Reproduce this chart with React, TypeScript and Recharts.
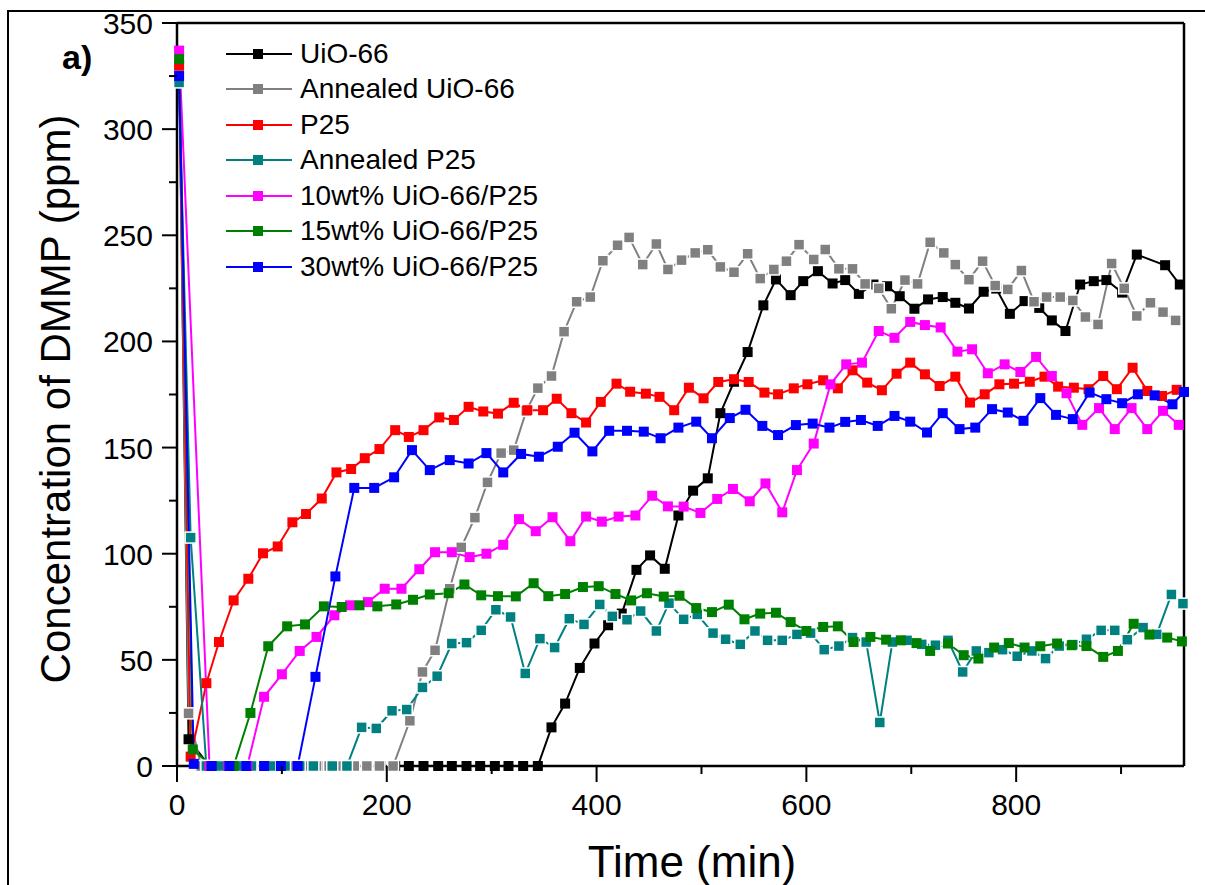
import { LineChart, Line, XAxis, YAxis, Legend } from "recharts";

// [time (min), concentration (ppm)]
const uio66: [number, number][] = [
  [2, 330], [11, 12.6], [31, 0], [45, 0], [58, 0], [72, 0], [85, 0], [99, 0], [113, 0], [126, 0],
  [140, 0], [153, 0], [167, 0], [181, 0], [194, 0], [208, 0], [221, 0], [235, 0], [249, 0], [262, 0],
  [276, 0], [289, 0], [303, 0], [316, 0], [330, 0], [344, 0], [357, 18.2], [370, 29.4], [384, 46.2],
  [398, 57.7], [411, 66.3], [424, 71.8], [438, 92.4], [451, 99.2], [465, 92.9], [478, 118], [492, 129.7],
  [506, 135.5], [518, 166.2], [531, 181], [544, 195], [559, 217], [571, 229.2], [585, 221.8], [597, 228.4],
  [611, 233.1], [625, 227.3], [637, 228.9], [650, 222.4], [664, 226.8], [677, 226], [689, 221.3],
  [703, 215.4], [716, 219.8], [730, 220.9], [742, 218.2], [755, 215.5], [769, 223.4], [781, 224.9],
  [794, 213], [808, 219], [822, 215.8], [834, 209.9], [847, 204.9], [861, 226.8], [874, 228.4],
  [886, 228.9], [901, 223], [915, 240.9], [942, 235.9], [956, 226.8],
];

const annealedUio66: [number, number][] = [
  [2, 329], [11, 24.8], [23, 0], [35, 0], [47, 0], [59, 0], [72, 0], [84, 0], [96, 0], [108, 0],
  [120, 0], [133, 0], [145, 0], [157, 0], [169, 0], [181, 0], [193, 0], [206, 0], [222, 21.3],
  [234, 44.3], [246, 54.5], [260, 83.5], [271, 103], [284, 117], [296, 133.6], [309, 147.4],
  [321, 148.8], [333, 167.3], [344, 178], [357, 183.7], [369, 204.6], [381, 218.7], [394, 220.9],
  [406, 238], [420, 245.3], [431, 249], [444, 236.2], [457, 245.9], [468, 233.9], [481, 238.3],
  [494, 241.7], [506, 243.2], [518, 235.1], [531, 232.6], [544, 241.3], [556, 229.6], [569, 233.9],
  [581, 237.8], [593, 245.6], [607, 238.6], [618, 243.3], [631, 234.2], [644, 234.2], [656, 227.1],
  [669, 225], [681, 215.4], [694, 228.9], [706, 227.1], [718, 246.7], [731, 241.7], [742, 236.2],
  [755, 229.1], [768, 237.8], [780, 226.3], [792, 224.5], [805, 233.4], [817, 218.7], [829, 220.9],
  [842, 220.9], [854, 219.3], [866, 211.5], [878, 208], [891, 236.7], [903, 225], [915, 212],
  [928, 218.2], [940, 213.8], [952, 209.9],
];

const p25: [number, number][] = [
  [2, 330], [13, 4.4], [28, 39], [40, 58.4], [54, 78], [68, 88.2], [82, 100.2], [96, 103.4],
  [110, 114.8], [123, 118.7], [138, 126], [152, 138.3], [166, 139.9], [179, 145], [193, 149.3],
  [208, 158.2], [221, 155], [235, 158.2], [250, 164.2], [264, 163], [278, 169.2], [292, 167],
  [306, 166], [321, 171.1], [334, 167.6], [349, 167.6], [362, 173], [376, 166.2], [390, 161.8],
  [404, 171.5], [419, 180.1], [432, 176.3], [447, 175.4], [460, 173.9], [474, 167.6], [488, 178.2],
  [502, 173.2], [516, 180.9], [531, 182.2], [545, 180.9], [560, 175.9], [573, 175.1], [588, 177.9],
  [601, 179.8], [616, 181.7], [630, 177.9], [644, 186.4], [658, 180.6], [672, 177], [686, 184.8],
  [699, 190], [713, 184.5], [727, 179], [742, 183.4], [756, 171.2], [770, 175.1], [784, 179.8],
  [798, 180.1], [813, 181], [827, 183.4], [840, 178.7], [855, 178.2], [869, 177.5], [883, 183.7],
  [896, 177.5], [911, 187.6], [925, 176.7], [939, 174.3], [953, 177.2],
];

const annealedP25: [number, number][] = [
  [2, 322], [13, 107.6], [28, 0], [41, 0], [57, 0], [71, 0], [89, 0], [103, 0], [117, 0], [130, 0],
  [148, 0], [162, 0], [176, 18.2], [190, 17.7], [205, 26], [219, 26.6], [234, 37], [248, 42.3],
  [262, 57.7], [276, 58.1], [290, 63.9], [304, 73.6], [318, 70.2], [332, 43.6], [346, 60],
  [360, 55.8], [374, 69.4], [388, 66.7], [403, 76.1], [415, 70.5], [429, 68.9], [442, 73],
  [457, 63.6], [469, 76.7], [483, 69.1], [496, 71.4], [511, 62.6], [523, 59.7], [537, 57.3],
  [551, 63.6], [563, 59.2], [577, 59.2], [591, 62], [604, 62.6], [617, 54.8], [631, 56.5],
  [644, 60.5], [657, 58.4], [670, 20.5], [682, 58.4], [696, 59.2], [710, 57.3], [723, 56.9],
  [735, 59.2], [749, 44.3], [762, 54.2], [774, 53.4], [787, 54.8], [801, 51.7], [815, 54.2],
  [828, 50.6], [841, 56.5], [854, 57.2], [867, 59.7], [881, 63.9], [894, 63.9], [906, 59.5],
  [921, 65.2], [934, 62], [948, 80.8], [959, 76.5],
];

const wt10: [number, number][] = [
  [2, 337], [31, 0], [49, 0], [67, 0], [83, 32.6], [100, 43.2], [117, 54.2], [133, 60.8], [150, 71],
  [165, 75.7], [182, 77.2], [198, 83.5], [214, 83.5], [231, 92.7], [246, 100.7], [262, 100.7],
  [279, 98.4], [295, 100], [311, 104.2], [326, 116.3], [342, 110.6], [358, 117.2], [375, 105.9],
  [390, 117.5], [405, 115.1], [421, 117.5], [437, 118], [453, 127.3], [468, 122.3], [483, 122.2],
  [499, 119.2], [515, 125.8], [530, 130.5], [546, 124.7], [561, 133.1], [577, 119.5], [591, 139.4],
  [607, 151.9], [623, 179.8], [638, 189.2], [653, 190], [669, 204.9], [684, 201.7], [699, 209.2],
  [713, 207.7], [728, 206.6], [744, 195.2], [758, 196.3], [773, 185], [789, 189.2], [804, 185.6],
  [819, 192.7], [834, 183.7], [848, 175.6], [863, 160.7], [879, 168.6], [894, 158.7], [910, 168.6],
  [925, 158.7], [940, 167.3], [955, 160.7],
];

const wt15: [number, number][] = [
  [2, 333], [15, 7.8], [33, 0], [54, 0], [70, 25], [87, 56.4], [105, 65.8], [122, 66.7], [140, 75.2],
  [157, 74.9], [174, 75.7], [191, 75.2], [209, 76.1], [225, 78.3], [241, 80.8], [259, 81.4],
  [274, 85.5], [290, 80.4], [306, 80], [323, 79.9], [340, 86.1], [354, 80], [370, 81], [387, 84.3],
  [402, 84.7], [418, 81], [433, 78], [448, 81.4], [464, 79.8], [479, 80.2], [495, 74.4], [510, 72.5],
  [526, 76], [541, 69.1], [556, 71.8], [571, 72.2], [585, 67.8], [600, 63.6], [616, 65.5],
  [630, 65.8], [645, 58.4], [661, 60.8], [676, 59.5], [690, 59.2], [705, 57.9], [718, 54.2],
  [735, 57.7], [750, 52.2], [764, 50.6], [779, 55.8], [793, 57.9], [808, 55.8], [823, 56.4],
  [839, 57.7], [853, 56.9], [867, 56.5], [883, 51.4], [897, 54.2], [912, 67], [927, 61.9],
  [944, 60.5], [958, 58.7],
];

const wt30: [number, number][] = [
  [2, 325], [16, 1], [33, 0], [50, 0], [66, 0], [83, 0], [99, 0], [115, 0], [132, 42], [151, 89.3],
  [169, 131], [188, 131], [207, 136], [224, 148.8], [241, 139.4], [260, 144.1], [278, 142.5],
  [295, 147.4], [311, 138.3], [328, 147], [345, 145.7], [363, 150.4], [379, 157], [396, 148.2],
  [412, 157.9], [429, 157.9], [445, 157.5], [461, 154.4], [478, 159.4], [495, 162.2], [510, 154.4],
  [527, 163.9], [542, 167.8], [558, 160.2], [573, 155.9], [590, 160.6], [606, 161.3], [622, 159.4],
  [637, 162.1], [652, 163], [668, 160.2], [684, 164.9], [699, 162.2], [715, 157.1], [730, 166.2],
  [746, 158.7], [761, 159.4], [777, 168.1], [792, 166.5], [807, 162.6], [823, 173.3], [838, 165.4],
  [854, 163.4], [870, 175.9], [886, 172.8], [901, 170.9], [916, 175.1], [932, 174.6], [949, 170.4],
  [960, 176.2],
];

const xTicks = [0, 100, 200, 300, 400, 500, 600, 700, 800, 900];
const xLabels = [0, 200, 400, 600, 800];
const yTicks = [0, 25, 50, 75, 100, 125, 150, 175, 200, 225, 250, 275, 300, 325, 350];

const FONT = "'Liberation Sans', Arial, sans-serif";

const series = [
  { key: "uio66", name: "UiO-66", color: "#000000", data: uio66, outline: false },
  { key: "aUio66", name: "Annealed UiO-66", color: "#808080", data: annealedUio66, outline: true },
  { key: "p25", name: "P25", color: "#ff0000", data: p25, outline: false },
  { key: "aP25", name: "Annealed P25", color: "#008080", data: annealedP25, outline: true },
  { key: "wt10", name: "10wt% UiO-66/P25", color: "#ff00ff", data: wt10, outline: false },
  { key: "wt15", name: "15wt% UiO-66/P25", color: "#008000", data: wt15, outline: false },
  { key: "wt30", name: "30wt% UiO-66/P25", color: "#0000ff", data: wt30, outline: false },
];

const XTick = ({ x, y, payload }: any) => {
  const major = xLabels.includes(payload.value);
  return (
    <g>
      <line x1={x} x2={x} y1={y} y2={y + (major ? 16 : 8)} stroke="#000" strokeWidth={2} />
      {major && (
        <text x={x} y={y + 49} textAnchor="middle" fontSize={30} fontFamily={FONT} fill="#000">
          {payload.value}
        </text>
      )}
    </g>
  );
};

const YTick = ({ x, y, payload }: any) => {
  const major = payload.value % 50 === 0;
  return (
    <g>
      <line x1={x - (major ? 15 : 8)} x2={x} y1={y} y2={y} stroke="#000" strokeWidth={2} />
      {major && (
        <text x={x - 24} y={y + 11} textAnchor="end" fontSize={30} fontFamily={FONT} fill="#000">
          {payload.value}
        </text>
      )}
    </g>
  );
};

const squareDot = (color: string, outline: boolean) => (props: any) => {
  const { cx, cy, index } = props;
  if (cx == null || cy == null) return <g key={index} />;
  const s = outline ? 11 : 10;
  return (
    <rect
      key={index}
      x={cx - s / 2}
      y={cy - s / 2}
      width={s}
      height={s}
      fill={color}
      stroke={outline ? "#ffffff" : "none"}
      strokeWidth={outline ? 1.5 : 0}
    />
  );
};

const LegendBox = () => (
  <div style={{ fontFamily: FONT, fontSize: 28, color: "#000" }}>
    {series.map((s) => (
      <div key={s.key} style={{ display: "flex", alignItems: "center", height: 35.5 }}>
        <svg width={66} height={14} style={{ flex: "none" }}>
          <line x1={0} x2={66} y1={7} y2={7} stroke={s.color} strokeWidth={2} />
          <rect x={27} y={2} width={10} height={10} fill={s.color} />
        </svg>
        <span style={{ marginLeft: 8, whiteSpace: "nowrap" }}>{s.name}</span>
      </div>
    ))}
  </div>
);

export default function App() {
  return (
    <div style={{ position: "absolute", left: 0, top: 0, width: 1205, height: 885, background: "#fff" }}>
      <div style={{ position: "absolute", left: 7, top: 10, width: 1198, height: 1.5, background: "#000" }} />
      <div style={{ position: "absolute", left: 7, top: 10, width: 1.5, height: 875, background: "#000" }} />
      <LineChart width={1205} height={885} margin={{ top: 21, right: 19, bottom: 59, left: 117 }}>
        <XAxis
          dataKey="t"
          type="number"
          domain={[0, 960]}
          ticks={xTicks}
          interval={0}
          tickSize={0}
          tickMargin={0}
          tickLine={false}
          tick={<XTick />}
          height={60}
          axisLine={{ stroke: "#000", strokeWidth: 2.5 }}
          label={{
            content: () => (
              <text x={692} y={877} textAnchor="middle" fontSize={44} fontFamily={FONT} fill="#000">
                Time (min)
              </text>
            ),
          }}
        />
        <XAxis
          xAxisId="top"
          orientation="top"
          type="number"
          domain={[0, 960]}
          tick={false}
          tickLine={false}
          height={2}
          axisLine={{ stroke: "#000", strokeWidth: 2.5 }}
        />
        <YAxis
          type="number"
          domain={[0, 350]}
          ticks={yTicks}
          interval={0}
          tickSize={0}
          tickMargin={0}
          tickLine={false}
          tick={<YTick />}
          width={60}
          axisLine={{ stroke: "#000", strokeWidth: 2.5 }}
          label={{
            content: () => (
              <text
                x={70}
                y={399}
                transform="rotate(-90 70 399)"
                textAnchor="middle"
                fontSize={42}
                fontFamily={FONT}
                fill="#000"
              >
                Concentration of DMMP (ppm)
              </text>
            ),
          }}
        />
        <YAxis
          yAxisId="right"
          orientation="right"
          type="number"
          domain={[0, 350]}
          tick={false}
          tickLine={false}
          width={2}
          axisLine={{ stroke: "#000", strokeWidth: 2.5 }}
        />
        <Legend
          layout="vertical"
          align="center"
          verticalAlign="middle"
          width={400}
          height={260}
          wrapperStyle={{ left: 226, top: 36 }}
          content={<LegendBox />}
        />
        {series.map((s) => (
          <Line
            key={s.key}
            name={s.name}
            data={s.data.map(([t, v]) => ({ t, v }))}
            dataKey="v"
            type="linear"
            stroke={s.color}
            strokeWidth={2}
            dot={squareDot(s.color, s.outline)}
            activeDot={false}
            isAnimationActive={false}
          />
        ))}
      </LineChart>
      <div
        style={{
          position: "absolute",
          left: 62,
          top: 40,
          fontFamily: FONT,
          fontWeight: "bold",
          fontSize: 34,
          color: "#000",
          lineHeight: 1,
        }}
      >
        a)
      </div>
    </div>
  );
}
